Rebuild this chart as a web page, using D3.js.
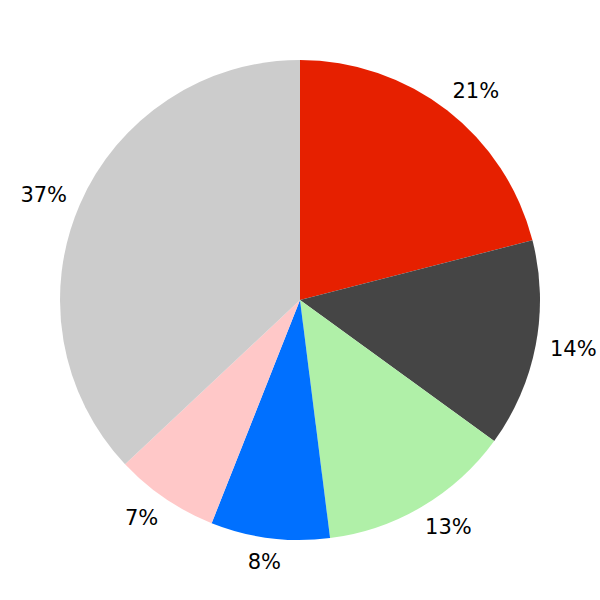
<!DOCTYPE html>
<html>
<head>
<meta charset="utf-8">
<script src="https://cdn.jsdelivr.net/npm/d3@7"></script>
<style>
  html, body { margin: 0; padding: 0; background: #fff; }
  svg { display: block; }
</style>
</head>
<body>
<svg id="chart" width="600" height="600"></svg>
<script>
const categories = ["A", "B", "C", "D", "E", "F"];
const values = [21, 14, 13, 8, 7, 37];
const labels = ["21%", "14%", "13%", "8%", "7%", "37%"];
const colors = ["#e62000", "#454545", "#b0f0a8", "#0070ff", "#ffc8c8", "#cccccc"];

const width = 600, height = 600;
const cx = 300, cy = 300, radius = 240, labelRadius = 264;

const svg = d3.select("#chart");
const g = svg.append("g").attr("transform", `translate(${cx},${cy})`);

const data = categories.map((c, i) => ({ cat: c, value: values[i], label: labels[i], color: colors[i] }));

const pie = d3.pie().sort(null).value(d => d.value).startAngle(0).endAngle(2 * Math.PI);
const arc = d3.arc().innerRadius(0).outerRadius(radius);
const arcs = pie(data);

g.selectAll("path.slice")
  .data(arcs)
  .join("path")
  .attr("class", "slice")
  .attr("d", arc)
  .attr("fill", d => d.data.color);

const texts = g.selectAll("text.lbl")
  .data(arcs)
  .join("text")
  .attr("class", "lbl")
  .attr("font-family", "DejaVu Sans, sans-serif")
  .attr("font-size", 21)
  .attr("fill", "#000")
  .attr("text-anchor", "middle")
  .attr("dominant-baseline", "central")
  .text(d => d.data.label);

texts.each(function(d) {
  const a = (d.startAngle + d.endAngle) / 2;
  const s = Math.sin(a), c = Math.cos(a);
  const w = this.getComputedTextLength();
  const shift = (w / 2) * 0.6 * s / Math.max(Math.abs(s), 0.5);
  d3.select(this)
    .attr("x", labelRadius * s + shift)
    .attr("y", -labelRadius * c);
});
</script>
</body>
</html>
